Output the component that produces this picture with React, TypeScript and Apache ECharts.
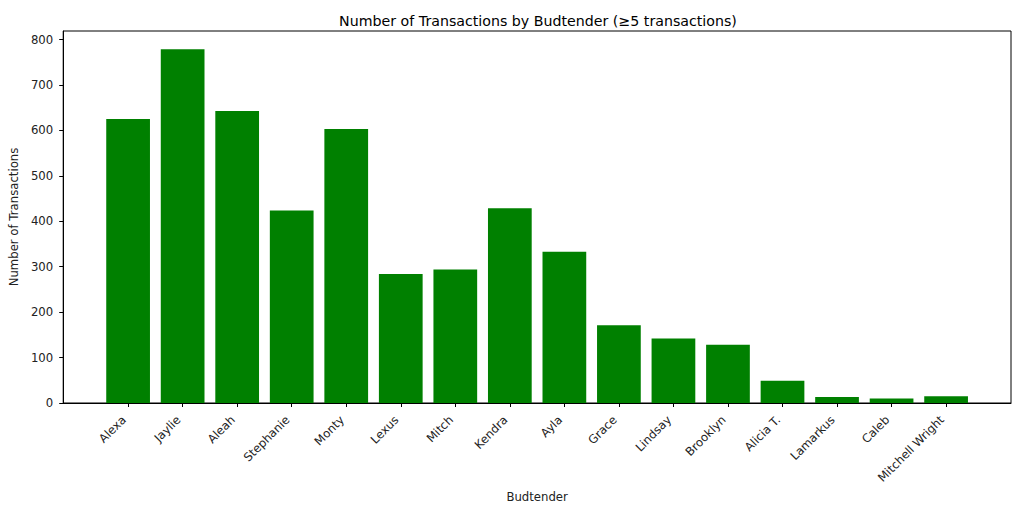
import React, { useEffect, useRef } from "react";
import * as echarts from "echarts";

const budtenders = [
  "Alexa", "Jaylie", "Aleah", "Stephanie", "Monty", "Lexus", "Mitch", "Kendra",
  "Ayla", "Grace", "Lindsay", "Brooklyn", "Alicia T.", "Lamarkus", "Caleb", "Mitchell Wright",
];
const transactions = [625, 779, 643, 424, 603, 284, 294, 429, 333, 171, 142, 128, 49, 13, 10, 15];
const yTicks = [0, 100, 200, 300, 400, 500, 600, 700, 800];

const FONT = "DejaVu Sans";

export default function App() {
  const ref = useRef<HTMLDivElement>(null);
  useEffect(() => {
    if (!ref.current) return;
    const chart = echarts.init(ref.current, null, { renderer: "svg" });
    const n = budtenders.length;
    const xMin = -0.4 - 0.05 * (n - 1 + 0.8);
    const xMax = n - 1 + 0.4 + 0.05 * (n - 1 + 0.8);
    const plotW = 950;
    const barW = (0.8 * plotW) / (xMax - xMin);
    const idx = budtenders.map((_, i) => i);
    chart.setOption({
      animation: false,
      title: {
        text: "Number of Transactions by Budtender (≥5 transactions)",
        left: 533,
        textAlign: "center",
        top: 9,
        textStyle: { fontFamily: FONT, fontSize: 14.2, fontWeight: "normal", color: "#000" },
      },
      grid: {
        left: 61, right: 13, top: 31, bottom: 109,
        show: true, borderColor: "#000", borderWidth: 1, backgroundColor: "#fff",
      },
      xAxis: {
        type: "value",
        min: xMin,
        max: xMax,
        splitLine: { show: false },
        axisLine: { show: true, onZero: false, lineStyle: { color: "#000", width: 1 } },
        axisTick: { show: true, customValues: idx, length: 4, lineStyle: { color: "#000" } },
        axisLabel: {
          customValues: idx,
          rotate: 45,
          align: "right",
          verticalAlign: "bottom",
          formatter: (v: number) => budtenders[Math.round(v)] ?? "",
          fontFamily: FONT,
          fontSize: 11.7,
          color: "#222",
          margin: 19,
        },
        name: "Budtender",
        nameLocation: "middle",
        nameGap: 81,
        nameTextStyle: { fontFamily: FONT, fontSize: 11.7, color: "#222" },
      },
      yAxis: {
        type: "value",
        min: 0,
        max: 819,
        splitLine: { show: false },
        axisLine: { show: true, onZero: false, lineStyle: { color: "#000", width: 1 } },
        axisTick: { show: true, customValues: yTicks, length: 4, lineStyle: { color: "#000" } },
        axisLabel: {
          customValues: yTicks,
          fontFamily: FONT,
          fontSize: 11.7,
          color: "#222",
          margin: 10,
        },
        name: "Number of Transactions",
        nameLocation: "middle",
        nameGap: 36,
        nameTextStyle: { fontFamily: FONT, fontSize: 11.7, color: "#222" },
      },
      series: [
        {
          type: "bar",
          data: transactions.map((v, i) => [i, v]),
          barWidth: barW,
          itemStyle: { color: "#008000" },
        },
      ],
    });
    return () => chart.dispose();
  }, []);
  return <div ref={ref} style={{ width: 1024, height: 512, position: "absolute", left: 0, top: 0 }} />;
}
